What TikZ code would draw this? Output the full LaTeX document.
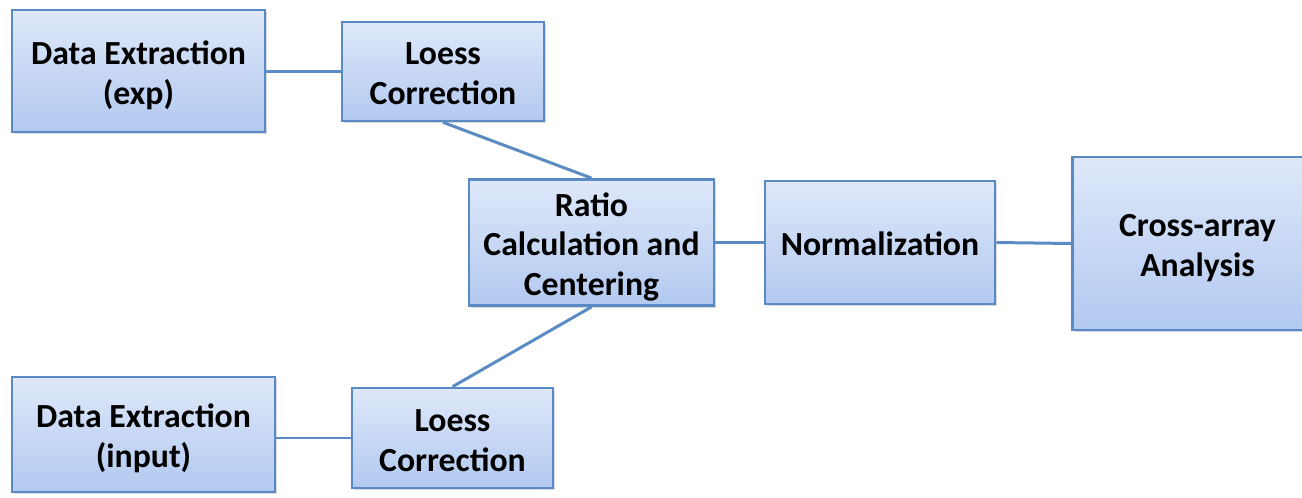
\documentclass[tikz,border=0pt]{standalone}
\usepackage{fontspec}
\setmainfont{Carlito}
\usetikzlibrary{shadows}
\definecolor{boxtop}{HTML}{DEE8F9}
\definecolor{boxbottom}{HTML}{B2C9F0}
\definecolor{boxedge}{HTML}{5A8AC6}
\definecolor{linkblue}{HTML}{5B8BC5}
% centred lines, set a little low in the box
\newcommand{\steptext}[1]{%
  \raisebox{-3pt}[\height][\depth]{\begin{tabular}{@{}c@{}}#1\end{tabular}}}

\begin{document}
\begin{tikzpicture}[
		font=\bfseries\fontsize{19.2}{22.6}\selectfont,
		stepbox/.style={rectangle, draw=boxedge, line width=1.5pt,
			top color=boxtop, bottom color=boxbottom, inner sep=2pt,
			drop shadow={opacity=0.3, shadow xshift=1.2pt, shadow yshift=-1.2pt}},
		link/.style={draw=linkblue, line width=1.7pt},
	]

	% frame of the whole picture
	\useasboundingbox (0,0) rectangle (26.04,-9.96);

	% column x coordinates
	\def\xdata{2.77}
	\def\xinp{2.87}
	\def\xloess{8.86}
	\def\xloessb{9.05}
	\def\xratio{11.83}
	\def\xnorm{17.60}
	\def\xcross{23.95}

	% the seven steps
	\node[stepbox, minimum width=5.06cm, minimum height=2.44cm] (dataexp) at (\xdata, -1.42)
	{\steptext{Data Extraction\\(exp)}};
	\node[stepbox, minimum width=4.04cm, minimum height=1.98cm] (loessexp) at (\xloess, -1.43)
	{\steptext{Loess\\Correction}};
	\node[stepbox, minimum width=4.90cm, minimum height=2.46cm] (ratio) at (\xratio, -4.85)
	{\steptext{Ratio\\Calculation and\\Centering}};
	\node[stepbox, minimum width=4.60cm, minimum height=2.46cm] (norm) at (\xnorm, -4.85)
	{\steptext{Normalization}};
	\node[stepbox, minimum width=5.00cm, minimum height=3.46cm] (cross) at (\xcross, -4.87)
	{\steptext{Cross-array\\Analysis}};
	\node[stepbox, minimum width=5.26cm, minimum height=2.30cm] (datainp) at (\xinp, -8.69)
	{\steptext{Data Extraction\\(input)}};
	\node[stepbox, minimum width=4.02cm, minimum height=2.00cm] (loessinp) at (\xloessb, -8.76)
	{\steptext{Loess\\Correction}};

	% connectors
	\draw[link] (dataexp.east |- loessexp) -- (loessexp.west);
	\draw[link] (loessexp.south) -- (ratio.north);
	\draw[link] (ratio.south) -- (loessinp.north);
	\draw[link] (datainp.east |- loessinp) -- (loessinp.west);
	\draw[link] (ratio.east) -- (norm.west);
	\draw[link] (norm.east) -- (cross.west);

\end{tikzpicture}
\end{document}
